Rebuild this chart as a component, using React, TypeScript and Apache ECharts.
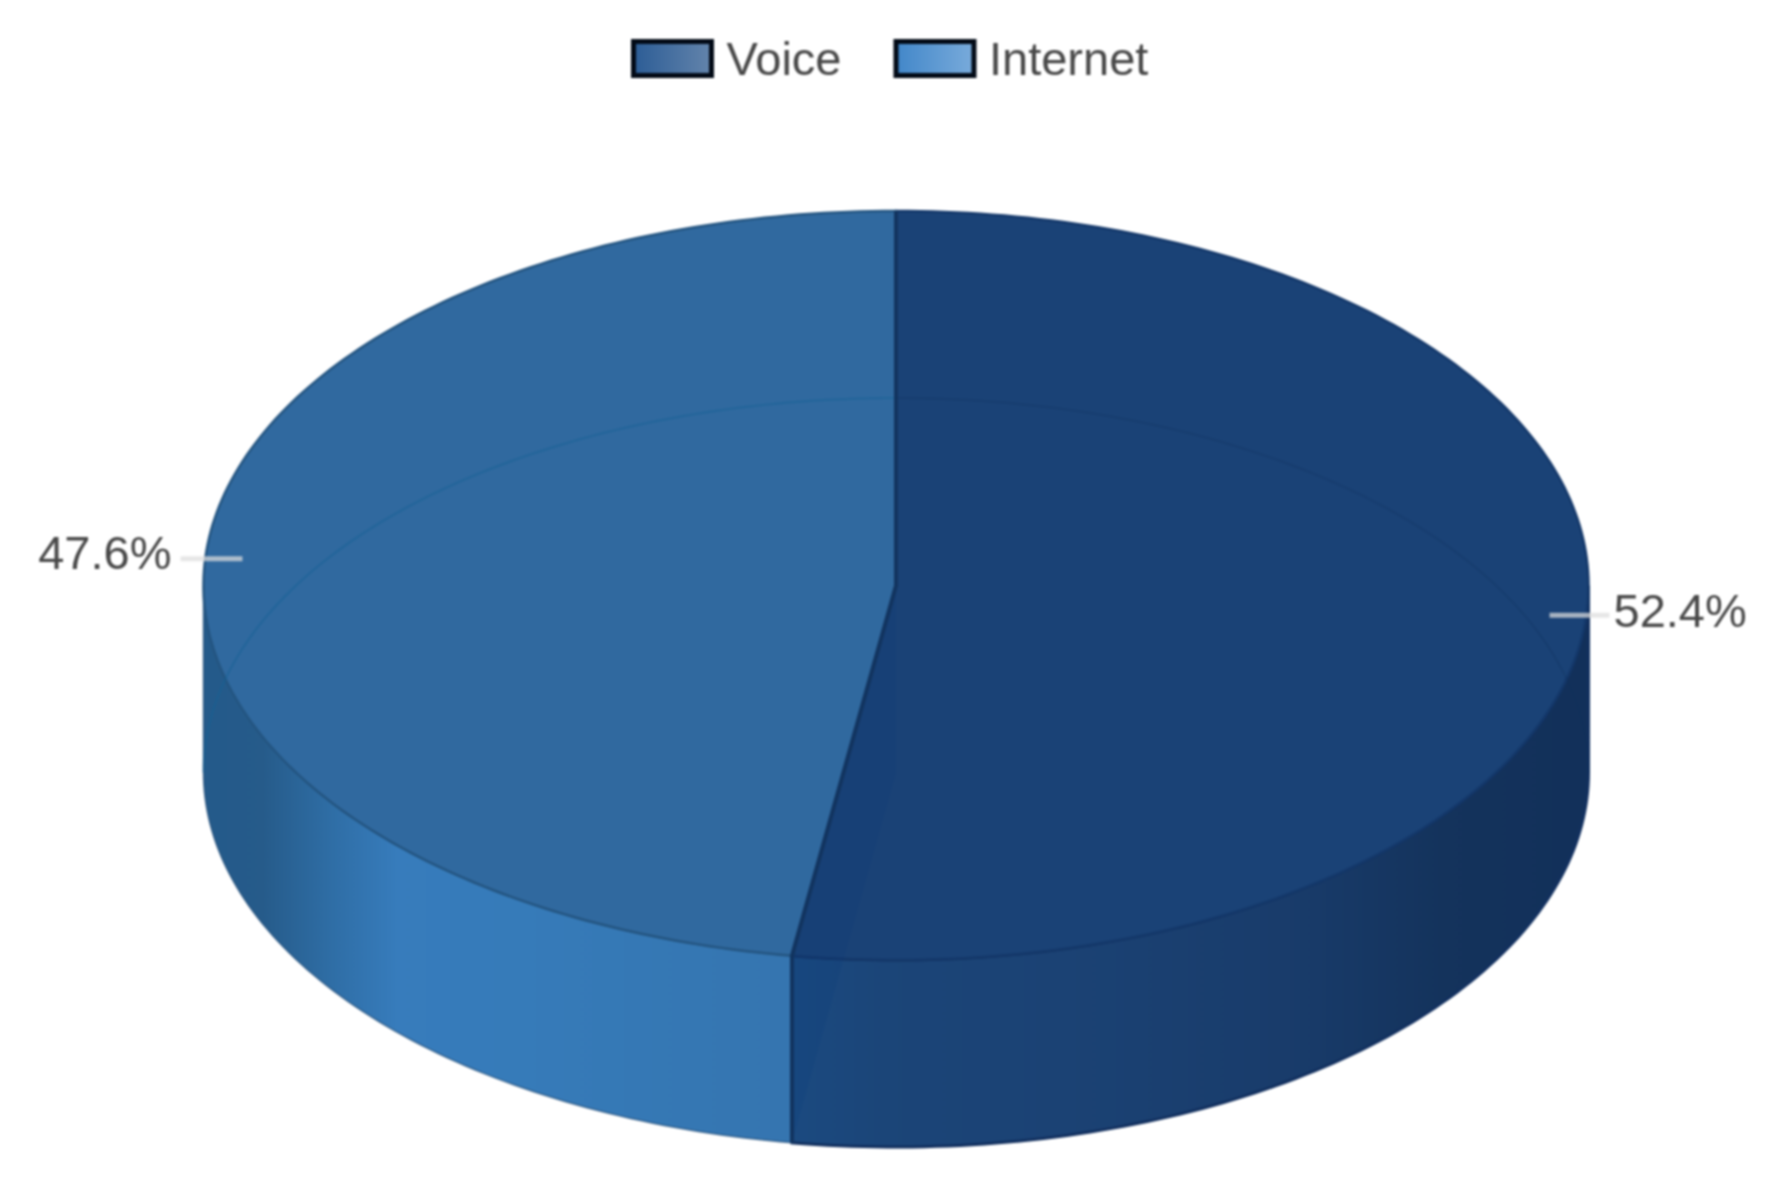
import React, { useEffect, useRef } from "react";
import * as echarts from "echarts";

const VOICE_SHARE = [52.4];
const INTERNET_SHARE = [47.6];
const SLICE_NAMES = ["Voice", "Internet"];
const SLICE_SHARES = [VOICE_SHARE[0], INTERNET_SHARE[0]];

const CX = 896;
const CY = 585.5;
const RX = 692.5;
const RY = 374.5;
const DEPTH = 187;
const FONT = "'Liberation Sans', Arial, sans-serif";

const TOP_FILL = ["#1a4276", "#30699f"];
const TOP_STROKE = ["#14386a", "#245581"];
const SIDE_STOPS = [
  [[0, "#1b4a80"], [0.12, "#1b4578"], [0.35, "#1b4274"], [0.62, "#193c6b"], [0.82, "#14335c"], [1, "#12305a"]],
  [[0, "#245a8a"], [0.1, "#265b8a"], [0.22, "#2f6ea6"], [0.33, "#377cbc"], [0.55, "#367bb9"], [1, "#3575b0"]],
];
const GHOST_STROKE = ["rgba(15,48,90,0.25)", "rgba(20,98,150,0.5)"];
const SPOKE_COLOR = "#12345f";
const WEDGE_FILL = "rgba(5,55,120,0.15)";

const pt = (deg: number, cy: number) => {
  const a = (deg * Math.PI) / 180;
  return [CX + RX * Math.sin(a), cy - RY * Math.cos(a)];
};

const arc = (from: number, to: number, cy: number) => {
  const out: number[][] = [];
  const n = Math.max(2, Math.ceil(Math.abs(to - from)));
  for (let i = 0; i <= n; i++) out.push(pt(from + ((to - from) * i) / n, cy));
  return out;
};

const sliceAngles = (index: number) => {
  const total = SLICE_SHARES.reduce((a, b) => a + b, 0);
  let start = 0;
  for (let i = 0; i < index; i++) start += SLICE_SHARES[i];
  return [(start / total) * 360, ((start + SLICE_SHARES[index]) / total) * 360];
};

function makeRenderItem(index: number) {
  return (_params: any, api: any) => {
    const value = api.value(0);
    const total = SLICE_SHARES.reduce((a, b) => a + b, 0);
    const [a0, a1] = sliceAngles(index);
    const mid = (a0 + a1) / 2;
    const children: any[] = [];

    // Front wall of the disc: only the part facing the viewer (90..270 degrees)
    const s0 = Math.max(a0, 90);
    const s1 = Math.min(a1, 270);
    if (s1 > s0) {
      const points = [...arc(s0, s1, CY), ...arc(s1, s0, CY + DEPTH)];
      children.push({
        type: "polygon",
        shape: { points },
        style: {
          fill: new echarts.graphic.LinearGradient(
            0, 0, 1, 0,
            SIDE_STOPS[index].map((s: any) => ({ offset: s[0], color: s[1] }))
          ),
          stroke: index === 0 ? "#12305f" : "rgba(24,70,115,0.7)",
          lineWidth: index === 0 ? 3 : 1.5,
        },
      });
    }

    // Top face
    children.push({
      type: "polygon",
      shape: { points: [[CX, CY], ...arc(a0, a1, CY)] },
      style: { fill: TOP_FILL[index], stroke: TOP_STROKE[index], lineWidth: 2.5 },
    });

    // Back rim of the bottom face, showing through the disc
    const backFrom = index === 0 ? 0 : 270;
    const backTo = index === 0 ? 90 : 360;
    children.push({
      type: "polyline",
      silent: true,
      shape: { points: arc(backFrom, backTo, CY + DEPTH) },
      style: { fill: "none", stroke: GHOST_STROKE[index], lineWidth: 2 },
    });

    // Leader and label
    const rim = pt(mid, CY);
    const dir = Math.sin((mid * Math.PI) / 180) >= 0 ? 1 : -1;
    children.push({
      type: "line",
      silent: true,
      shape: {
        x1: rim[0] - dir * 37,
        y1: rim[1] + 1.5,
        x2: rim[0] + dir * (dir > 0 ? 23 : 25),
        y2: rim[1] + 1.5,
      },
      style: { stroke: "rgba(222,222,222,0.72)", lineWidth: 5 },
    });
    children.push({
      type: "text",
      silent: true,
      style: {
        x: rim[0] + dir * (dir > 0 ? 27 : 34),
        y: rim[1] - (dir > 0 ? 3 : 5),
        text: ((value / total) * 100).toFixed(1) + "%",
        fill: "#484848",
        font: `47px ${FONT}`,
        align: dir > 0 ? "left" : "right",
        verticalAlign: "middle",
      },
    });
    return { type: "group", children };
  };
}

// Edges between the slices and the bottom face seen through the first slice
function renderEdges() {
  const [a0, a1] = sliceAngles(0);
  return {
    type: "group",
    children: [
      {
        type: "polygon",
        silent: true,
        shape: { points: [[CX, CY], [CX, CY + DEPTH], pt(a1, CY + DEPTH), pt(a1, CY)] },
        style: { fill: WEDGE_FILL, stroke: "none" },
      },
      {
        type: "polyline",
        silent: true,
        shape: { points: [pt(a0, CY), [CX, CY], pt(a1, CY), pt(a1, CY + DEPTH)] },
        style: { fill: "none", stroke: SPOKE_COLOR, lineWidth: 4 },
      },
    ],
  };
}

const LEGEND_STOPS = [
  ["#2c5d96", "#6384ab"],
  ["#4287c9", "#79abdb"],
];

export default function App() {
  const ref = useRef<HTMLDivElement>(null);
  useEffect(() => {
    document.body.style.margin = "0";
    document.body.style.background = "#ffffff";
    const chart = echarts.init(ref.current!, undefined, { renderer: "svg" });
    chart.setOption({
      animation: false,
      backgroundColor: "#ffffff",
      legend: {
        left: 626,
        top: 30,
        itemWidth: 78,
        itemHeight: 34,
        itemGap: 52,
        icon: "rect",
        selectedMode: false,
        textStyle: {
          fontFamily: FONT,
          fontSize: 47,
          color: "#484848",
          padding: [0, 0, 4, 10],
        },
        data: SLICE_NAMES.map((name, i) => ({
          name,
          itemStyle: {
            color: new echarts.graphic.LinearGradient(0, 0, 1, 0, [
              { offset: 0, color: LEGEND_STOPS[i][0] },
              { offset: 1, color: LEGEND_STOPS[i][1] },
            ]),
            borderColor: "#020a16",
            borderWidth: 5,
          },
        })),
      },
      series: [
        {
          type: "custom",
          name: SLICE_NAMES[0],
          coordinateSystem: "none",
          renderItem: makeRenderItem(0),
          data: [VOICE_SHARE],
        },
        {
          type: "custom",
          name: SLICE_NAMES[1],
          coordinateSystem: "none",
          renderItem: makeRenderItem(1),
          data: [INTERNET_SHARE],
        },
        {
          type: "custom",
          name: "edges",
          z: 3,
          coordinateSystem: "none",
          renderItem: renderEdges,
          data: [VOICE_SHARE],
        },
      ],
    });
    return () => chart.dispose();
  }, []);
  return <div ref={ref} style={{ width: 1766, height: 1183, filter: "blur(1.2px)" }} />;
}
